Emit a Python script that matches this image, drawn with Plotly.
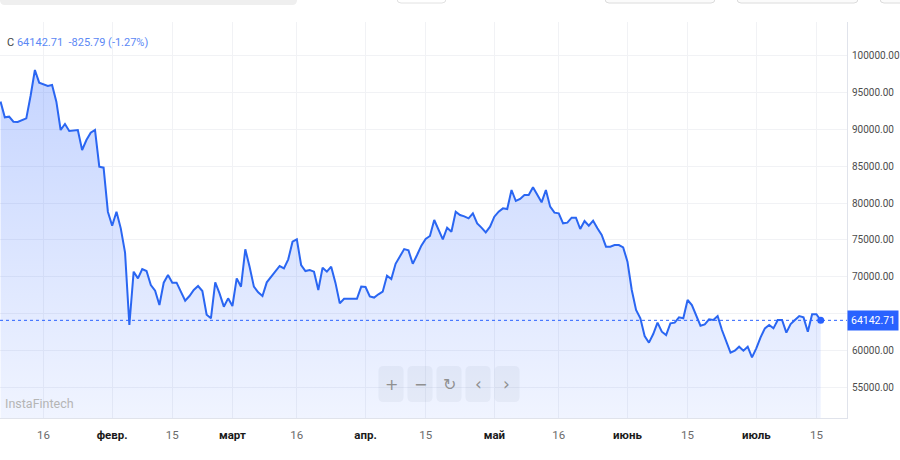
import plotly.graph_objects as go
import pandas as pd

# ---------------- data ----------------
start_date = "2025-01-06"
close_prices = [
    93700, 91580, 91670, 90990, 90950, 91215, 91440, 94500, 97970, 96260,
    96035, 95810, 95945, 93690, 89864, 90674, 89728, 89773, 89864, 87160,
    88512, 89503, 89864, 84908, 84773, 78826, 76934, 78826, 76574, 73285,
    63510, 70717, 69816, 71077, 70807, 68915, 68150, 66212, 69230, 70266,
    69230, 69230, 68014, 66797, 67428, 68239, 68780, 68104, 64900, 64412,
    69277, 67791, 65989, 67115, 66079, 69818, 68692, 73737, 71395, 68692,
    67926, 67430, 69277, 70043, 70719, 71485, 71170, 72386, 74774, 75089,
    71620, 70810, 70950, 70720, 68240, 71260, 70720, 71400, 69200, 66440,
    67060, 67030, 67030, 67050, 68700, 68650, 67380, 67220, 67660, 68020,
    70180, 69730, 71780, 72740, 73770, 73600, 71780, 72971, 74232, 75133,
    75539, 77701, 76350, 75088, 76665, 76124, 78828, 78377, 78197, 77927,
    78602, 77251, 76665, 76034, 76800, 78152, 78828, 79278, 79188, 81756,
    80269, 80540, 81080, 81080, 82116, 81080, 80089, 81756, 79503, 78692,
    78602, 77251, 77341, 78017, 78017, 76485, 77566, 76935, 77611, 76575,
    75674, 74097, 74097, 74322, 74323, 74007, 72070, 68241, 65538, 64412,
    62024, 61123, 62294, 63826, 62610, 62159, 63736, 63826, 64547, 64412,
    66890, 66214, 64863, 63421, 63601, 64277, 64187, 64727, 62835, 61258,
    59772, 60042, 60583, 60042, 60583, 59141, 60358, 61844, 63061, 63511,
    63061, 64187, 64187, 62475, 63646, 64187, 64727, 64547, 62610, 64953,
    64968.50, 64142.71,
]
last_price = 64142.71
price_change = -825.79
pct_change = -1.27

tick_dates = ["2025-01-16", "2025-02-01", "2025-02-15", "2025-03-01", "2025-03-16",
              "2025-04-01", "2025-04-15", "2025-05-01", "2025-05-16", "2025-06-01",
              "2025-06-15", "2025-07-01", "2025-07-15"]
tick_labels = ["16", "февр.", "15", "март", "16", "апр.", "15", "май", "16",
               "июнь", "15", "июль", "15"]
month_labels = {"февр.", "март", "апр.", "май", "июнь", "июль"}

y_ticks = [55000, 60000, 65000, 70000, 75000, 80000, 85000, 90000, 95000, 100000]
y_hidden = [65000]  # label hidden behind the last-price badge

dates = pd.date_range(start_date, periods=len(close_prices), freq="D")

# ---------------- styling ----------------
FONT = "Roboto, Arial, sans-serif"
LINE = "#2a66f2"
BLUE = "#2962ff"
W, H = 900, 460
ML, MR, MT, MB = 0, 53, 22, 42
PW, PH = W - ML - MR, H - MT - MB


def px(x):
    return (x - ML) / PW


def py(y):
    return (H - MB - y) / PH


def rrect(x0, y0, x1, y1, r):
    rx, ry = r / PW, r / PH
    X0, X1 = px(x0), px(x1)
    Y0, Y1 = py(y1), py(y0)  # bottom, top in paper
    return (f"M {X0+rx},{Y0} L {X1-rx},{Y0} Q {X1},{Y0} {X1},{Y0+ry} "
            f"L {X1},{Y1-ry} Q {X1},{Y1} {X1-rx},{Y1} L {X0+rx},{Y1} "
            f"Q {X0},{Y1} {X0},{Y1-ry} L {X0},{Y0+ry} Q {X0},{Y0} {X0+rx},{Y0} Z")


ticktext = []
for t in tick_labels:
    if t in month_labels:
        ticktext.append(f"<b><span style='color:#1a1a1a'>{t}</span></b>")
    else:
        ticktext.append(f"<span style='color:#6b6b6b'>{t}</span>")

y_text = ["" if v in y_hidden else f"{v:.2f}" for v in y_ticks]

fig = go.Figure()
fig.add_trace(go.Scatter(
    x=dates, y=close_prices, mode="lines",
    line=dict(color=LINE, width=2),
    fill="tozeroy",
    fillgradient=dict(type="vertical",
                      colorscale=[[0, "rgba(41,98,255,0.07)"], [1, "rgba(41,98,255,0.27)"]],
                      start=51000, stop=98000),
    hoverinfo="skip", showlegend=False,
))
fig.add_trace(go.Scatter(
    x=[dates[-1]], y=[close_prices[-1]], mode="markers",
    marker=dict(color=BLUE, size=7), hoverinfo="skip", showlegend=False,
))

shapes = [
    dict(type="line", xref="paper", yref="y", x0=0, x1=1, y0=last_price, y1=last_price,
         line=dict(color=BLUE, width=1, dash="dot")),
    # top toolbar remnants
    dict(type="path", xref="paper", yref="paper", path=rrect(0, -20, 297, 5, 5),
         fillcolor="#efefef", line=dict(width=0), layer="above"),
    dict(type="path", xref="paper", yref="paper", path=rrect(397, -20, 446, 3, 4),
         fillcolor="#ffffff", line=dict(color="#e2e2e2", width=1), layer="above"),
    dict(type="path", xref="paper", yref="paper", path=rrect(605, -20, 715, 3, 4),
         fillcolor="#fbfbfb", line=dict(color="#dcdcdc", width=1), layer="above"),
    dict(type="path", xref="paper", yref="paper", path=rrect(737, -20, 858, 3, 4),
         fillcolor="#fbfbfb", line=dict(color="#dcdcdc", width=1), layer="above"),
    dict(type="path", xref="paper", yref="paper", path=rrect(880, -20, 920, 3, 4),
         fillcolor="#fbfbfb", line=dict(color="#dcdcdc", width=1), layer="above"),
]

annotations = [
    dict(xref="paper", yref="paper", x=px(5), y=py(42), xanchor="left", yanchor="middle",
         showarrow=False, font=dict(family=FONT, size=11, color="#5b88f5"),
         text=(f"<span style='color:#444'>C</span> {last_price:.2f}  "
               f"{price_change:.2f} ({pct_change:.2f}%)")),
    dict(xref="paper", yref="paper", x=px(3), y=py(403), xanchor="left", yanchor="middle",
         showarrow=False, font=dict(family=FONT, size=12.5, color="#b5b5b5"),
         text="InstaFintech"),
    dict(xref="paper", yref="y", x=1, y=last_price, xanchor="left", yanchor="middle",
         showarrow=False, bgcolor=BLUE, borderpad=3,
         font=dict(family=FONT, size=10.5, color="#ffffff"), text=f"{last_price:.2f}"),
]

# zoom / navigation buttons
btn_centers = [391, 420, 449, 478, 507]
btn_symbols = ["+", "−", "↻", "‹", "›"]
for cx, sym in zip(btn_centers, btn_symbols):
    shapes.append(dict(type="path", xref="paper", yref="paper",
                       path=rrect(cx - 12.5, 366, cx + 12.5, 402, 5),
                       fillcolor="rgba(120,130,150,0.08)", line=dict(width=0), layer="above"))
    annotations.append(dict(xref="paper", yref="paper", x=px(cx), y=py(384),
                            xanchor="center", yanchor="middle", showarrow=False,
                            font=dict(family="DejaVu Sans", size=17 if sym in "‹›" else 16,
                                      color="#909090"),
                            text=sym))

fig.update_layout(
    width=W, height=H, autosize=False,
    margin=dict(l=ML, r=MR, t=MT, b=MB, pad=0),
    paper_bgcolor="#ffffff", plot_bgcolor="#ffffff",
    font=dict(family=FONT, size=12, color="#505050"),
    hovermode=False, showlegend=False,
    shapes=shapes, annotations=annotations,
    xaxis=dict(type="date", range=["2025-01-05 21:00", "2025-07-22 03:00"],
               tickmode="array", tickvals=tick_dates, ticktext=ticktext,
               showgrid=True, gridcolor="#f1f2f5", gridwidth=1,
               showline=True, linecolor="#e0e3eb", linewidth=1,
               ticks="", ticklabelstandoff=6, automargin=False,
               tickfont=dict(family=FONT, size=11.5), zeroline=False, fixedrange=True),
    yaxis=dict(side="right", range=[50944, 104460],
               tickmode="array", tickvals=y_ticks, ticktext=y_text,
               showgrid=True, gridcolor="#f1f2f5", gridwidth=1,
               showline=True, linecolor="#e0e3eb", linewidth=1,
               ticks="", ticklabelstandoff=2, automargin=False,
               tickfont=dict(family=FONT, size=10, color="#4d4d4d"),
               zeroline=False, fixedrange=True),
)

fig.write_html("out.html", config={"displayModeBar": False})
